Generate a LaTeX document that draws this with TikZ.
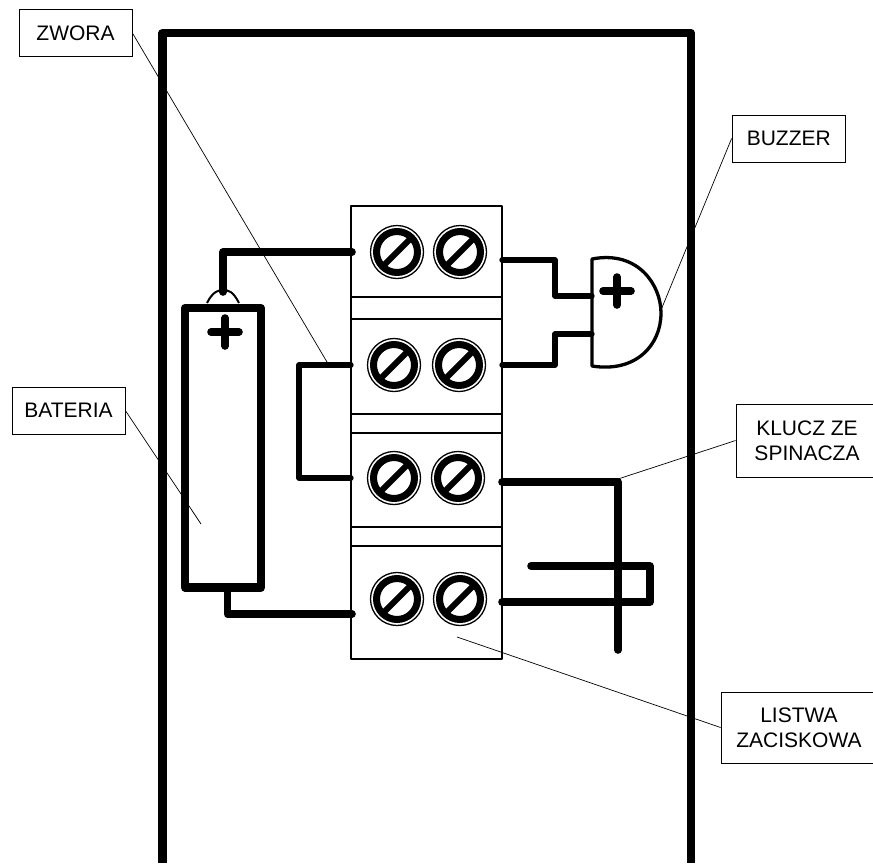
\documentclass[tikz,border=0pt]{standalone}
\usepackage{fontspec}
\setmainfont{Liberation Sans}
\usepackage{tikz}

\tikzset{
	wire/.style={line width=7.6pt, line cap=round, line join=round},
	thinwire/.style={line width=5.3pt, line cap=round, line join=round},
	strip/.style={line width=2.3pt, line join=round},
	labelbox/.style={draw, line width=0.8pt, align=center, inner sep=0pt, font=\fontsize{21}{25}\selectfont},
	leader/.style={line width=0.7pt}
}

\begin{document}
\begin{tikzpicture}[x=1pt, y=-1pt]
		\useasboundingbox (0, 0) rectangle (873, 863);

		% Labels
		\node[labelbox, minimum width=113, minimum height=47] (zwora) at (75.5, 33) {ZWORA};
		\node[labelbox, minimum width=113.5, minimum height=47] (buzzer) at (788.75, 138.5) {BUZZER};
		\node[labelbox, minimum width=113, minimum height=47] (bateria) at (68.5, 410.5) {BATERIA};
		\node[labelbox, minimum width=142, minimum height=73] (klucz) at (807, 440.5) {KLUCZ ZE\\SPINACZA};
		\node[labelbox, minimum width=156, minimum height=71] (listwa) at (799, 727.5) {LISTWA\\ZACISKOWA};

		% Leader lines, the housing and the battery hide them
		\coordinate (zworaend) at (327, 362);
		\coordinate (buzzerend) at (661, 310);
		\coordinate (bateriaend) at (201, 524);
		\coordinate (kluczend) at (615, 480);
		\coordinate (listwaend) at (457, 637);
		\draw[leader] (zwora.east) -- (zworaend);
		\draw[leader] (buzzer.west) -- (buzzerend);
		\draw[leader] (bateria.east) -- (bateriaend);
		\draw[leader] (klucz.west) -- (kluczend);
		\draw[leader] (listwa.west) -- (listwaend);

		% Housing
		\draw[line width=8.3pt, line join=round] (162.5, 863) -- (162.5, 33) -- (691, 33) -- (691, 863);

		% Terminal strip
		\draw[strip] (351, 206) rectangle (502, 659);
		\foreach \ydiv in {297, 319, 414, 433, 527, 546}
			\draw[line width=1.5pt] (351, \ydiv) -- (502, \ydiv);

		% Screws
		\foreach \xs/\ys in {397/252, 460/252, 394/365, 459/365, 394/478, 458/478, 397/599, 460/599} {
			\draw[line width=1.3pt] (\xs, \ys) circle (26.5);
			\draw[line width=7pt] (\xs, \ys) circle (20.5);
			\draw[line width=6pt] (\xs - 15, \ys + 15) -- (\xs + 15, \ys - 15);
		}

		% Battery
		\draw[line width=8.3pt, line join=round] (185, 308) rectangle (261, 587.5);
		\draw[line width=2pt] (207, 303) .. controls (213, 291) and (219, 290) .. (223, 290) .. controls (228, 290) and (233, 291) .. (239, 303);
		\draw[wire] (211, 332) -- (239, 332);
		\draw[wire] (225, 318) -- (225, 346);

		% Wires from the battery
		\draw[wire] (223, 292) -- (223, 252) -- (352, 252);
		\draw[wire] (227.5, 587) -- (227.5, 614) -- (352, 614);

		% Jumper
		\draw[thinwire] (351, 365) -- (299, 365) -- (299, 478) -- (351, 478);

		% Buzzer
		\draw[line width=3.3pt, line join=round] (592, 259) .. controls (638, 250) and (661, 285) .. (661, 313) .. controls (661, 345) and (636, 373) .. (592, 366) -- cycle;
		\draw[wire] (603, 291) -- (631, 291);
		\draw[wire] (617, 277) -- (617, 305);
		\draw[thinwire] (502, 260) -- (555, 260) -- (555, 296) -- (592, 296);
		\draw[thinwire] (502, 365) -- (555, 365) -- (555, 334) -- (592, 334);

		% Key
		\draw[wire] (502, 482) -- (618, 482) -- (618, 650);
		\draw[wire] (502, 602) -- (650, 602) -- (650, 566) -- (531, 566);
	\end{tikzpicture}
\end{document}
